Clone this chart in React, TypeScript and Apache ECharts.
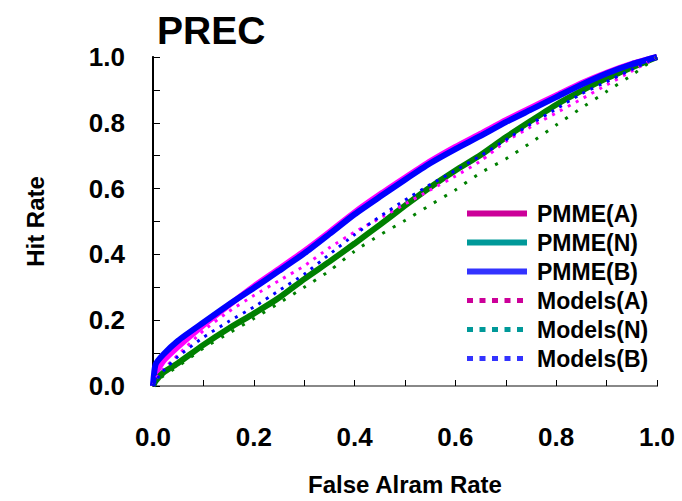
import React, { useEffect, useRef } from "react";
import * as echarts from "echarts";

const FAR = [0, 0.005, 0.02, 0.05, 0.1, 0.15, 0.2, 0.25, 0.3, 0.35, 0.4, 0.45, 0.5, 0.55, 0.6, 0.65, 0.7, 0.75, 0.8, 0.85, 0.9, 0.95, 1];

const PMME_A = [0, 0.035, 0.075, 0.12, 0.185, 0.245, 0.303, 0.356, 0.41, 0.468, 0.528, 0.582, 0.633, 0.683, 0.727, 0.767, 0.808, 0.846, 0.883, 0.92, 0.952, 0.979, 1];
const PMME_N = [0, 0.015, 0.04, 0.07, 0.125, 0.175, 0.22, 0.268, 0.325, 0.378, 0.433, 0.49, 0.548, 0.604, 0.655, 0.702, 0.756, 0.806, 0.855, 0.897, 0.935, 0.968, 1];
const PMME_B = [0, 0.065, 0.095, 0.138, 0.193, 0.247, 0.298, 0.35, 0.403, 0.462, 0.522, 0.575, 0.627, 0.677, 0.72, 0.76, 0.802, 0.84, 0.878, 0.916, 0.95, 0.978, 1];
const MODELS_A = [0, 0.02, 0.05, 0.095, 0.168, 0.226, 0.275, 0.32, 0.365, 0.42, 0.468, 0.51, 0.553, 0.596, 0.638, 0.684, 0.743, 0.788, 0.83, 0.872, 0.915, 0.957, 1];
const MODELS_N = [0, 0.01, 0.03, 0.06, 0.115, 0.16, 0.205, 0.252, 0.3, 0.35, 0.41, 0.459, 0.503, 0.55, 0.596, 0.648, 0.69, 0.74, 0.793, 0.845, 0.895, 0.945, 1];
const MODELS_B = [0, 0.015, 0.045, 0.09, 0.148, 0.196, 0.24, 0.29, 0.34, 0.4, 0.46, 0.515, 0.565, 0.612, 0.655, 0.7, 0.748, 0.797, 0.842, 0.888, 0.925, 0.962, 1];

const SERIES_NAMES = ["PMME(A)", "PMME(N)", "PMME(B)", "Models(A)", "Models(N)", "Models(B)"];
const TITLE = "PREC";
const X_NAME = "False Alram Rate";
const Y_NAME = "Hit Rate";

const FONT = "'Liberation Sans', Arial, sans-serif";

function pairs(ys: number[]) {
  return FAR.map((x, i) => [x, ys[i]]);
}

export default function App() {
  const ref = useRef<HTMLDivElement>(null);
  useEffect(() => {
    document.body.style.margin = "0";
    const chart = echarts.init(ref.current!, null, { renderer: "svg" });
    const fmt = (v: number) => (Math.round(v * 10) % 2 === 0 ? v.toFixed(1) : "");
    const solid = (name: string, data: number[], color: string, z: number) => ({
      name,
      type: "line",
      data: pairs(data),
      symbol: "none",
      smooth: 0.2,
      z,
      lineStyle: { color, width: 6, type: "solid" },
      itemStyle: { color },
    });
    const dotted = (name: string, data: number[], color: string, dash: number[], z: number) => ({
      name,
      type: "line",
      data: pairs(data),
      symbol: "none",
      smooth: 0.2,
      z,
      lineStyle: { color, width: 3, type: dash },
      itemStyle: { color },
    });
    const legItem = (name: string, color: string, dashed: boolean) => ({
      name,
      itemStyle: { color, opacity: 0 },
      lineStyle: { color, width: dashed ? 5 : 6, type: dashed ? [6, 6.5] : "solid" },
    });
    chart.setOption({
      animation: false,
      backgroundColor: "#fff",
      title: {
        text: TITLE,
        left: 152,
        top: 6,
        textStyle: { fontFamily: FONT, fontWeight: "bold", fontSize: 39, color: "#000" },
      },
      grid: { left: 153, right: 25, top: 57, bottom: 115 },
      legend: {
        orient: "vertical",
        left: 459,
        top: 197,
        itemWidth: 60,
        itemHeight: 14,
        itemGap: 6,
        textStyle: { fontFamily: FONT, fontWeight: "bold", fontSize: 23, color: "#000", padding: [0, 0, 0, 5] },
        data: [
          legItem(SERIES_NAMES[0], "#CC0099", false),
          legItem(SERIES_NAMES[1], "#009999", false),
          legItem(SERIES_NAMES[2], "#3333FF", false),
          legItem(SERIES_NAMES[3], "#CC0099", true),
          legItem(SERIES_NAMES[4], "#009999", true),
          legItem(SERIES_NAMES[5], "#3333FF", true),
        ],
      },
      xAxis: [
        {
          type: "value",
          min: 0,
          max: 1,
          interval: 0.1,
          name: X_NAME,
          nameLocation: "middle",
          nameGap: 86,
          nameTextStyle: { fontFamily: FONT, fontWeight: "bold", fontSize: 24, color: "#000" },
          axisLine: { show: true, lineStyle: { color: "#000", width: 2 } },
          axisTick: { show: true, inside: true, length: 6, lineStyle: { color: "#000", width: 1 } },
          axisLabel: { formatter: fmt, margin: 38, fontFamily: FONT, fontWeight: "bold", fontSize: 26, color: "#000" },
          splitLine: { show: false },
        },
        {
          type: "value",
          position: "top",
          min: 0,
          max: 1,
          axisLine: { show: true, lineStyle: { color: "#888", width: 2 } },
          axisTick: { show: false },
          axisLabel: { show: false },
          splitLine: { show: false },
        },
      ],
      yAxis: [
        {
          type: "value",
          min: 0,
          max: 1,
          interval: 0.1,
          name: Y_NAME,
          nameLocation: "middle",
          nameGap: 106,
          nameTextStyle: { fontFamily: FONT, fontWeight: "bold", fontSize: 24, color: "#000" },
          axisLine: { show: true, lineStyle: { color: "#000", width: 2 } },
          axisTick: { show: true, inside: true, length: 7, lineStyle: { color: "#000", width: 1 } },
          axisLabel: { formatter: fmt, margin: 28, fontFamily: FONT, fontWeight: "bold", fontSize: 26, color: "#000" },
          splitLine: { show: false },
        },
        {
          type: "value",
          position: "right",
          min: 0,
          max: 1,
          axisLine: { show: true, lineStyle: { color: "#000", width: 1.5 } },
          axisTick: { show: false },
          axisLabel: { show: false },
          splitLine: { show: false },
        },
      ],
      series: [
        solid(SERIES_NAMES[0], PMME_A, "#FF00FF", 2),
        solid(SERIES_NAMES[1], PMME_N, "#008000", 3),
        solid(SERIES_NAMES[2], PMME_B, "#0000FF", 4),
        dotted(SERIES_NAMES[3], MODELS_A, "#FF00FF", [3, 6], 5),
        dotted(SERIES_NAMES[4], MODELS_N, "#008000", [3, 9], 5),
        dotted(SERIES_NAMES[5], MODELS_B, "#0000FF", [3, 6], 6),
      ],
    });
    return () => chart.dispose();
  }, []);
  return <div ref={ref} style={{ width: 682, height: 501 }} />;
}
